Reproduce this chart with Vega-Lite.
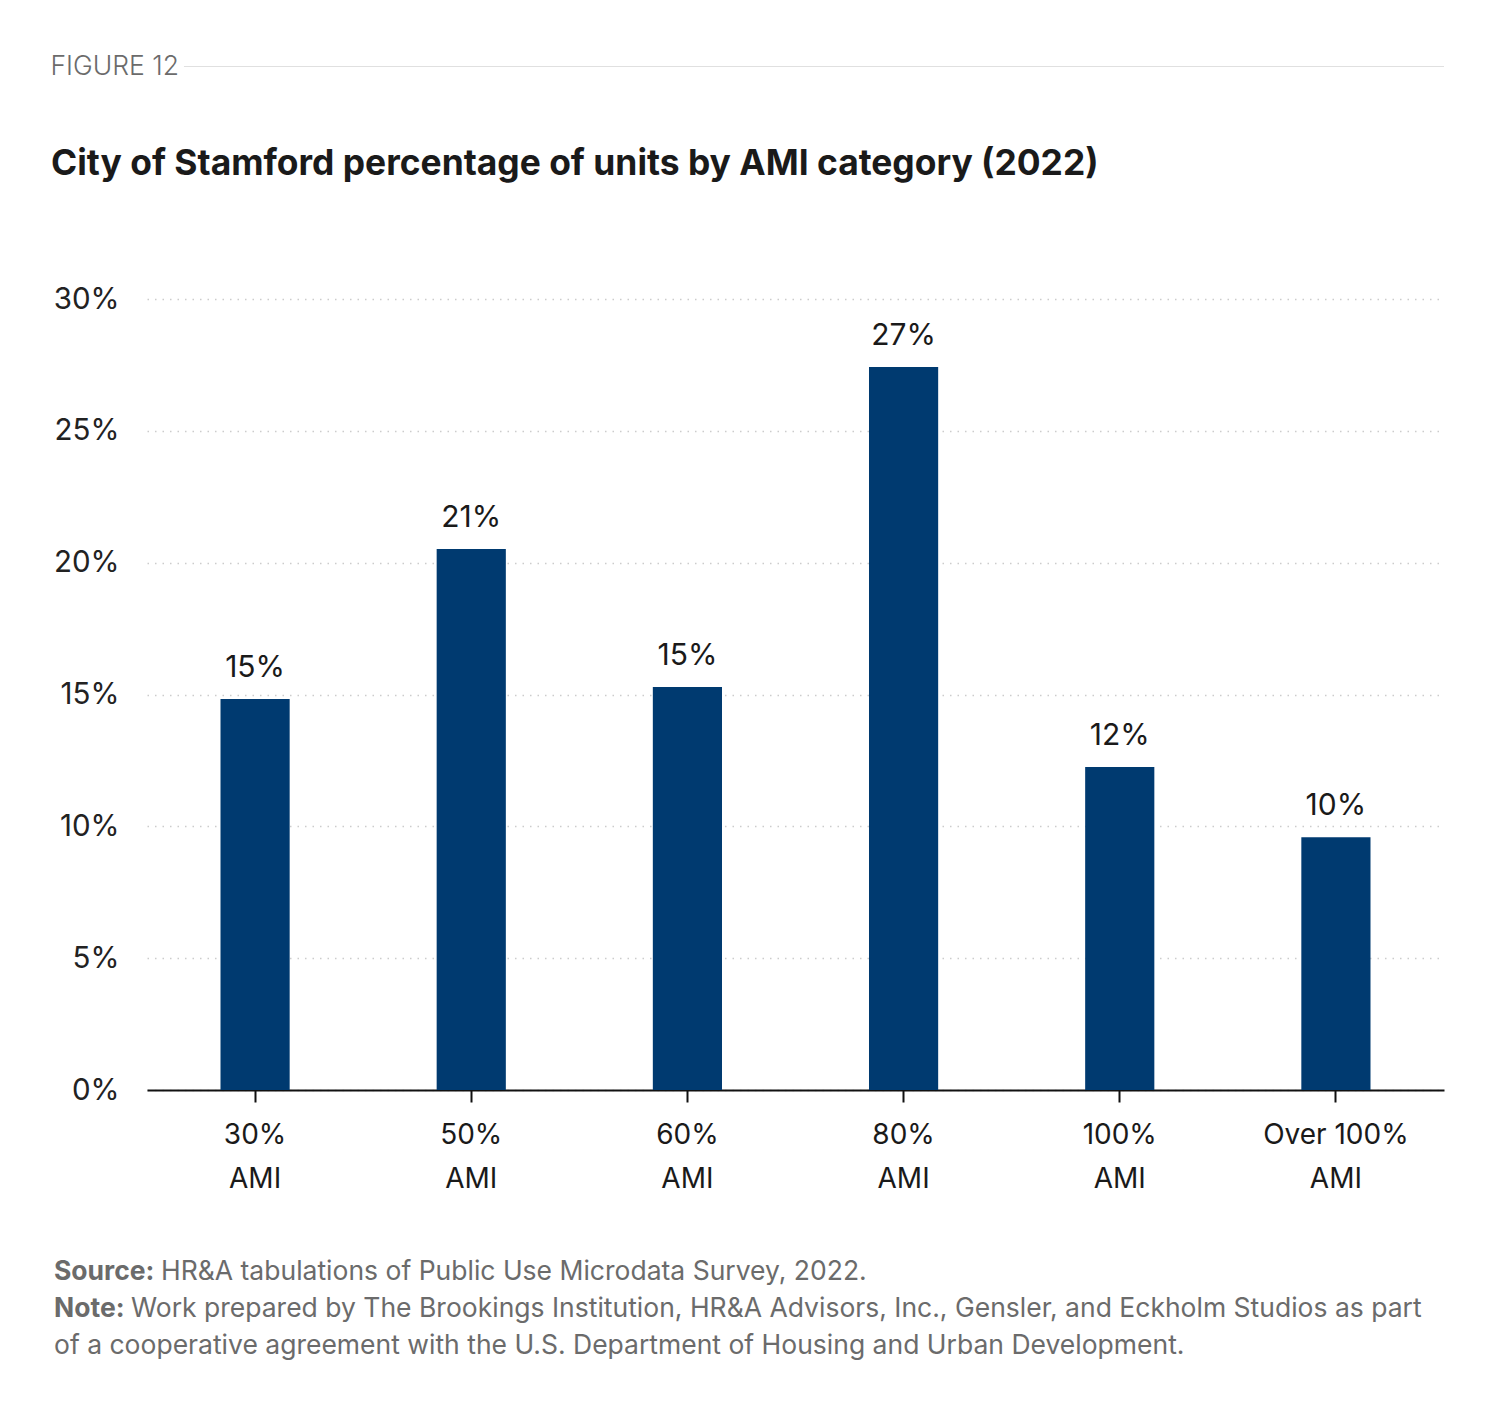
{
  "$schema": "https://vega.github.io/schema/vega-lite/v6.json",
  "background": "white",
  "padding": {"left": 50, "top": 53, "right": 10, "bottom": 10},
  "spacing": 66,
  "align": "none",
  "config": {
    "font": "Inter",
    "view": {"stroke": null},
    "axis": {"labelFont": "Inter", "titleFont": "Inter"}
  },
  "vconcat": [
    {
      "width": 1297,
      "height": 1,
      "data": {"values": [{"label": "FIGURE 12"}]},
      "encoding": {
        "x": {"datum": 0.0285, "type": "quantitative", "scale": {"domain": [0, 1]}, "axis": null}
      },
      "layer": [
        {
          "mark": {"type": "rule", "color": "#e0e0e0", "strokeWidth": 1},
          "encoding": {"x2": {"datum": 1}}
        },
        {
          "mark": {"type": "text", "align": "right", "baseline": "middle", "dx": -5, "font": "Inter", "fontSize": 26.5, "fontWeight": 300, "color": "#6b6b6b"},
          "encoding": {"text": {"field": "label"}}
        }
      ]
    },
    {
      "width": 1297,
      "height": 791,
      "title": {
        "text": "City of Stamford percentage of units by AMI category (2022)",
        "anchor": "start",
        "frame": "group",
        "dx": -96,
        "baseline": "alphabetic",
        "offset": 74,
        "font": "Inter",
        "fontSize": 35.4,
        "fontWeight": "bold",
        "color": "#1a1a1a"
      },
      "data": {
        "values": [
          {"category": "30% AMI", "share": 0.1483},
          {"category": "50% AMI", "share": 0.2052},
          {"category": "60% AMI", "share": 0.1528},
          {"category": "80% AMI", "share": 0.2742},
          {"category": "100% AMI", "share": 0.1225},
          {"category": "Over 100% AMI", "share": 0.0959}
        ]
      },
      "encoding": {
        "x": {
          "field": "category",
          "type": "nominal",
          "sort": null,
          "scale": {"paddingInner": 0.68, "paddingOuter": 0.34},
          "axis": {
            "title": null,
            "labelAngle": 0,
            "labelExpr": "[slice(datum.label, 0, -4), 'AMI']",
            "labelFontSize": 28,
            "labelColor": "#1a1a1a",
            "labelLineHeight": 44,
            "labelPadding": 19,
            "labelBaseline": "top",
            "domainColor": "#111111",
            "domainWidth": 2,
            "tickColor": "#111111",
            "tickWidth": 2,
            "tickSize": 12,
            "grid": false
          }
        },
        "y": {
          "field": "share",
          "type": "quantitative",
          "scale": {"domain": [0, 0.3], "nice": false},
          "axis": {
            "title": null,
            "values": [0, 0.05, 0.1, 0.15, 0.2, 0.25, 0.3],
            "format": ".0%",
            "labelFontSize": 29.5,
            "labelColor": "#222222",
            "labelPadding": 28,
            "ticks": false,
            "domain": false,
            "grid": true,
            "gridColor": "#cccccc",
            "gridDash": [1.5, 6],
            "gridWidth": 1.5
          }
        }
      },
      "layer": [
        {"mark": {"type": "bar", "color": "#003a70"}},
        {
          "mark": {
            "type": "text",
            "baseline": "alphabetic",
            "dy": -22,
            "fontSize": 30,
            "color": "#1a1a1a",
            "font": "Inter"
          },
          "encoding": {"text": {"field": "share", "format": ".0%"}}
        }
      ]
    },
    {
      "width": 1297,
      "height": 74,
      "data": {
        "values": [
          {"row": "source", "head": "Source:", "body": "HR&A tabulations of Public Use Microdata Survey, 2022."},
          {"row": "note", "head": "Note:", "body": "Work prepared by The Brookings Institution, HR&A Advisors, Inc., Gensler, and Eckholm Studios as part"},
          {"row": "cont", "head": "", "body": "of a cooperative agreement with the U.S. Department of Housing and Urban Development."}
        ]
      },
      "encoding": {
        "x": {"datum": 0, "type": "quantitative", "scale": {"domain": [0, 1]}, "axis": null},
        "y": {"field": "row", "type": "nominal", "sort": ["source", "note", "cont"], "scale": {"type": "point", "padding": 0}, "axis": null}
      },
      "layer": [
        {
          "mark": {"type": "text", "align": "left", "baseline": "middle", "dx": -93, "fontSize": 26.5, "fontWeight": "bold", "color": "#6b6b6b", "font": "Inter"},
          "encoding": {"text": {"field": "head"}}
        },
        {
          "transform": [{"filter": "datum.row === 'source'"}],
          "mark": {"type": "text", "align": "left", "baseline": "middle", "dx": 14, "fontSize": 26.5, "color": "#6b6b6b", "font": "Inter"},
          "encoding": {"text": {"field": "body"}}
        },
        {
          "transform": [{"filter": "datum.row === 'note'"}],
          "mark": {"type": "text", "align": "left", "baseline": "middle", "dx": -16, "fontSize": 26.5, "color": "#6b6b6b", "font": "Inter"},
          "encoding": {"text": {"field": "body"}}
        },
        {
          "transform": [{"filter": "datum.row === 'cont'"}],
          "mark": {"type": "text", "align": "left", "baseline": "middle", "dx": -93, "fontSize": 26.5, "color": "#6b6b6b", "font": "Inter"},
          "encoding": {"text": {"field": "body"}}
        }
      ]
    }
  ]
}
